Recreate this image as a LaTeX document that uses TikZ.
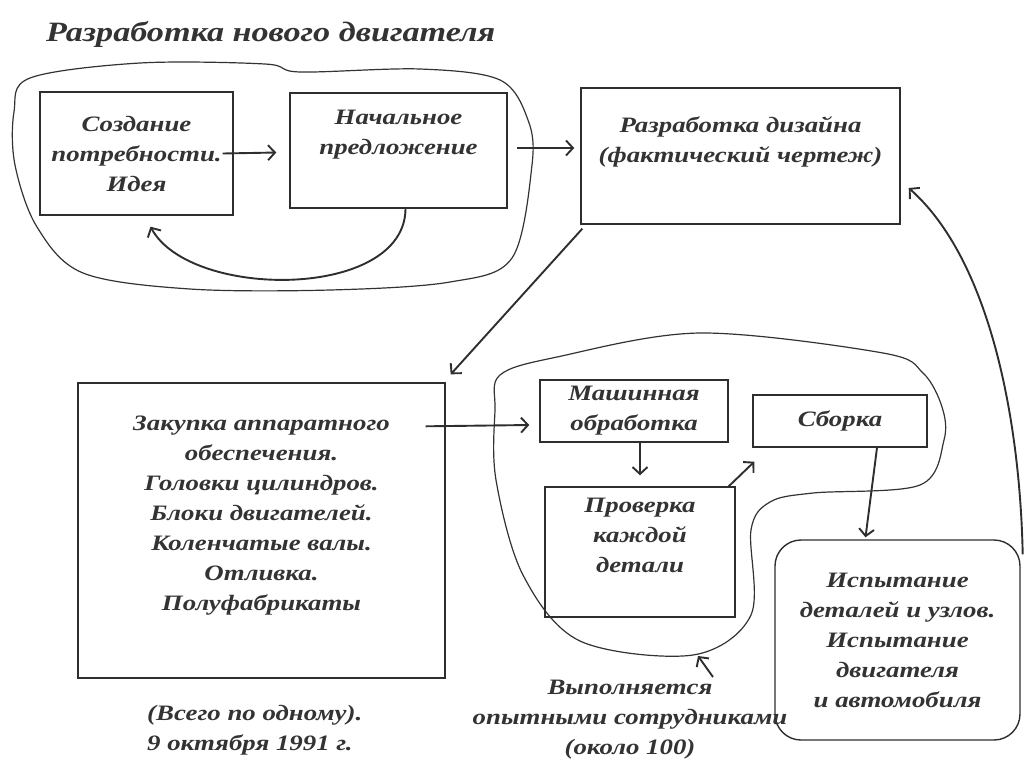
\documentclass[tikz,border=0pt]{standalone}
\usepackage{fontspec}
\setmainfont{Liberation Serif}[FakeStretch=1.22]
\usetikzlibrary{arrows.meta,calc}
\newcommand\handfont{\bfseries\itshape\fontsize{22}{30}\selectfont}
\newcommand\headfont{\bfseries\itshape\fontsize{28}{32}\selectfont}
\begin{document}
\begin{tikzpicture}[x=1pt,y=-1pt,
  ink/.style={draw=black!82, line width=1.4pt},
  box/.style={ink, rectangle, inner sep=0pt, align=center, font=\handfont, text=black!80},
  roundbox/.style={box, rounded corners=26pt},
  blob/.style={draw=black!80, line width=1.2pt},
  arr/.style={draw=black!82, line width=1.9pt, -{Straight Barb[length=7pt,width=15pt,line width=1.9pt]}},
  note/.style={font=\handfont, text=black!80, inner sep=0pt}
]
\useasboundingbox (0,0) rectangle (1030,764);

% heading
\node[anchor=base west, font=\headfont, text=black!80, inner sep=0pt] (title) at (46,41) {Разработка нового двигателя};

% first stage: idea and proposal
\draw[blob] plot[smooth cycle, tension=0.55] coordinates {
  (30,78) (140,63) (265,64) (300,72) (420,69) (500,80) (528,120) (532,165)
  (512,258) (450,282) (330,290) (190,289) (83,273) (37,227) (15,165) (14,112)};

\node[box, minimum width=193, minimum height=123] (A) at (136.5,153.5)
  {Создание\\потребности.\\Идея};
\node[box, minimum width=217, minimum height=115] (B) at (398.5,150.5)
  {Начальное\\предложение\\[6pt]};
\node[box, minimum width=319, minimum height=136] (C) at (740.5,156)
  {Разработка дизайна\\(фактический чертеж)\\[2pt]};

% purchasing
\node[box, minimum width=367, minimum height=295] (D) at (261.5,530.5)
  {Закупка аппаратного\\обеспечения.\\Головки цилиндров.\\Блоки двигателей.\\Коленчатые валы.\\Отливка.\\Полуфабрикаты\\[4pt]};
\node[note, anchor=base west, align=left] (D note) at (147,750)
  {(Всего по одному).\\9 октября 1991 г.};

% workshop
\draw[blob] plot[smooth cycle, tension=0.55] coordinates {
  (500,375) (557,357) (700,333) (883,353) (923,373) (942,407) (944,440)
  (920,485) (813,493) (770,502) (751,530) (751,615) (693,655) (580,641)
  (523,575) (496,480) (495,410)};
\coordinate (shop bottom) at (698,656);

\node[box, minimum width=188, minimum height=62] (E) at (634,411)
  {Машинная\\обработка};
\node[box, minimum width=174, minimum height=52] (F) at (840,421)
  {Сборка};
\node[box, minimum width=190, minimum height=130] (G) at (640,552)
  {Проверка\\каждой\\детали\\[4pt]};
\node[roundbox, minimum width=245, minimum height=200] (H) at (897.5,640)
  {Испытание\\деталей и узлов.\\Испытание\\двигателя\\и автомобиля};

\node[note, align=center, anchor=base] (staff) at (630,754)
  {Выполняется\\опытными сотрудниками\\(около 100)};
\coordinate (staff tip) at (713,677);

% connectors
\draw[arr] ($(A.east)+(-11,0)$) -- ($(B.west)+(-13,2)$);
\draw[arr] ($(B.south)+(7,0)$) .. controls (405,300) and (190,300) .. ($(A.south)+(14,11)$);
\draw[arr] ($(C.west)+(-63,-8)$) -- ($(C.west)+(-6,-8)$);
\draw[arr] ($(C.south west)+(2,4)$) -- ($(D.north east)+(5,-8)$);
\draw[arr] ($(D.north east)+(-20,44)$) -- ($(E.west)+(-10,14)$);
\draw[arr] ($(E.south)+(6,0)$) -- ($(G.north)+(0,-11)$);
\draw[arr] ($(G.north east)+(-7,0)$) -- ($(F.south west)+(2,14)$);
\draw[arr] ($(F.south)+(37,0)$) -- ($(H.north)+(-32,-2)$);
\draw[arr] ($(H.north east)+(2,15)$) .. controls (1020,420) and (990,260) .. ($(C.east)+(8,32)$);
\draw[arr] (staff tip) -- (shop bottom);
\end{tikzpicture}
\end{document}
